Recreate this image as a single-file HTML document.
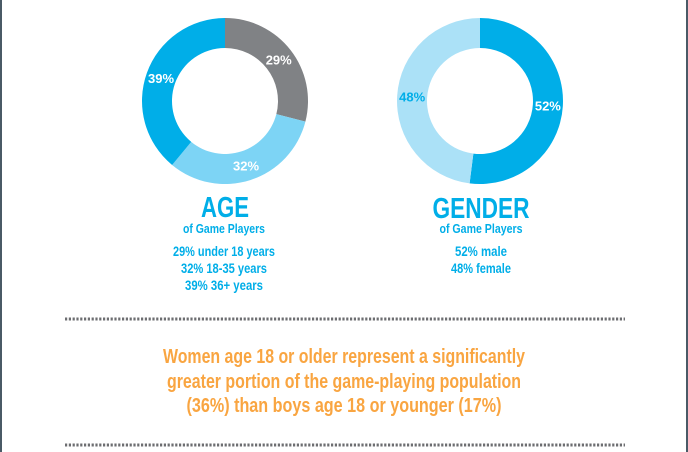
<!DOCTYPE html>
<html><head><meta charset="utf-8">
<style>
html,body{margin:0;padding:0;background:#fff;}
svg{display:block;}
text{font-family:"Liberation Sans Narrow","Liberation Sans",sans-serif;font-weight:bold;}
</style></head>
<body>
<svg id="chart" width="688" height="452" viewBox="0 0 688 452">
  <rect x="0" y="0" width="2" height="452" fill="#4a5a66"/>
  <rect x="686" y="0" width="2" height="452" fill="#4a5a66"/>
  <g id="ageDonut"></g>
  <g id="genderDonut"></g>

  <text x="225" y="217" font-size="29" fill="#00aee8" text-anchor="middle" textLength="48" lengthAdjust="spacingAndGlyphs">AGE</text>
  <text x="224" y="233" font-size="13" fill="#00aee8" text-anchor="middle" textLength="82" lengthAdjust="spacingAndGlyphs">of Game Players</text>
  <text x="224" y="256" font-size="14" fill="#00aee8" text-anchor="middle" textLength="102" lengthAdjust="spacingAndGlyphs">29% under 18 years</text>
  <text x="224" y="273" font-size="14" fill="#00aee8" text-anchor="middle" textLength="86" lengthAdjust="spacingAndGlyphs">32% 18-35 years</text>
  <text x="224" y="290" font-size="14" fill="#00aee8" text-anchor="middle" textLength="78" lengthAdjust="spacingAndGlyphs">39% 36+ years</text>

  <text x="481" y="218" font-size="29" fill="#00aee8" text-anchor="middle" textLength="97" lengthAdjust="spacingAndGlyphs">GENDER</text>
  <text x="481" y="233" font-size="13" fill="#00aee8" text-anchor="middle" textLength="83" lengthAdjust="spacingAndGlyphs">of Game Players</text>
  <text x="481" y="256" font-size="14" fill="#00aee8" text-anchor="middle" textLength="52" lengthAdjust="spacingAndGlyphs">52% male</text>
  <text x="481" y="273" font-size="14" fill="#00aee8" text-anchor="middle" textLength="60" lengthAdjust="spacingAndGlyphs">48% female</text>

  <line x1="65" y1="319" x2="625" y2="319" stroke="#6d6e71" stroke-width="3" stroke-dasharray="2.2 1.6"/>
  <line x1="65" y1="445" x2="625" y2="445" stroke="#6d6e71" stroke-width="3" stroke-dasharray="2.2 1.6"/>

  <text x="344" y="363" font-size="20" fill="#f9a541" text-anchor="middle" textLength="362" lengthAdjust="spacingAndGlyphs">Women age 18 or older represent a significantly</text>
  <text x="344" y="388" font-size="20" fill="#f9a541" text-anchor="middle" textLength="354" lengthAdjust="spacingAndGlyphs">greater portion of the game-playing population</text>
  <text x="344" y="412" font-size="20" fill="#f9a541" text-anchor="middle" textLength="315" lengthAdjust="spacingAndGlyphs">(36%) than boys age 18 or younger (17%)</text>
</svg>
<script>
const ageCategories = ["under 18", "18-35", "36+"];
const ageValues = [29, 32, 39];
const ageColors = ["#808285", "#7dd4f5", "#00aee8"];
const genderCategories = ["male", "female"];
const genderValues = [52, 48];
const genderColors = ["#00aee8", "#abe1f7"];

const NS = "http://www.w3.org/2000/svg";
function drawDonut(g, cx, cy, R, r, values, colors, cats, prefix, labelR) {
  const total = values.reduce((a, b) => a + b, 0);
  let acc = 0;
  values.forEach((v, i) => {
    const a0 = acc / total * 2 * Math.PI - Math.PI / 2;
    acc += v;
    const a1 = acc / total * 2 * Math.PI - Math.PI / 2;
    const large = (a1 - a0) > Math.PI ? 1 : 0;
    const p = (ang, rad) => [cx + rad * Math.cos(ang), cy + rad * Math.sin(ang)];
    const [x0, y0] = p(a0, R), [x1, y1] = p(a1, R), [x2, y2] = p(a1, r), [x3, y3] = p(a0, r);
    const path = document.createElementNS(NS, "path");
    path.setAttribute("d", `M${x0},${y0} A${R},${R} 0 ${large} 1 ${x1},${y1} L${x2},${y2} A${r},${r} 0 ${large} 0 ${x3},${y3} Z`);
    path.setAttribute("fill", colors[i]);
    
    
    g.appendChild(path);
    const mid = (a0 + a1) / 2;
    const [lx, ly] = p(mid, labelR);
    const t = document.createElementNS(NS, "text");
    t.setAttribute("x", lx);
    t.setAttribute("y", ly + 5);
    t.setAttribute("text-anchor", "middle");
    t.setAttribute("font-size", "13");
    t.setAttribute("fill", colors[i] === "#abe1f7" ? "#00aee8" : "#fff");
    t.textContent = v + "%";
    
    
    g.appendChild(t);
  });
}
drawDonut(document.getElementById("ageDonut"), 225, 101, 83, 53, ageValues, ageColors, ageCategories, "age", 68);
drawDonut(document.getElementById("genderDonut"), 480, 101, 83, 53, genderValues, genderColors, genderCategories, "gender", 68);
</script>
</body></html>
